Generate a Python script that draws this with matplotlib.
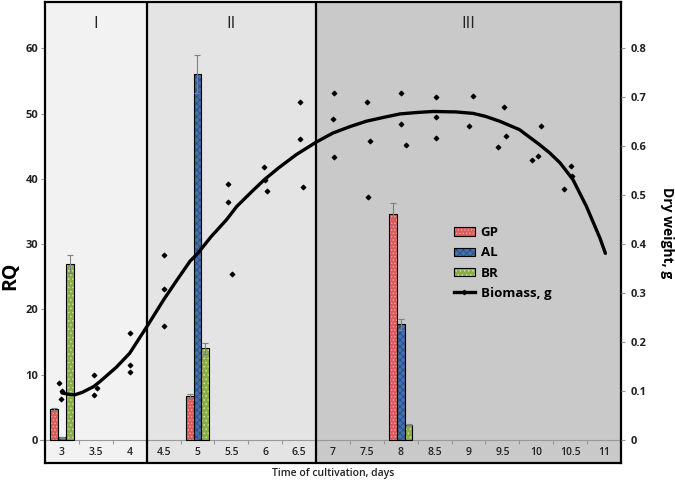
import matplotlib.pyplot as plt
from matplotlib.legend_handler import HandlerTuple
from matplotlib.lines import Line2D

plt.rcParams['font.family'] = ['Open Sans', 'DejaVu Sans']
plt.rcParams['hatch.linewidth'] = 0.6

# Data
day_labels = ['3', '3.5', '4', '4.5', '5', '5.5', '6', '6.5', '7', '7.5',
              '8', '8.5', '9', '9.5', '10', '10.5', '11']
bar_days = [3, 5, 8]
gp = [4.7, 6.7, 34.6]
gp_err = [0.2, 0.4, 1.7]
al = [0.4, 56.1, 17.7]
al_err = [0.1, 2.9, 0.8]
br = [26.9, 14.0, 2.3]
br_err = [1.4, 0.8, 0.1]

# biomass measurements (dry weight, g)
bio_days = [2.96, 3.0, 2.99, 3.47, 3.51, 3.47, 4.0, 4.0, 4.0, 4.5, 4.5, 4.5,
            5.45, 5.45, 5.51, 5.98, 6.0, 6.03, 6.51, 6.51, 6.55,
            7.01, 7.0, 7.01, 7.5, 7.54, 7.52, 8.01, 8.01, 8.07,
            8.52, 8.52, 8.52, 9.07, 9.0, 9.52, 9.56, 9.44,
            10.07, 10.02, 9.93, 10.51, 10.52, 10.41]
bio_vals = [0.116, 0.099, 0.083, 0.132, 0.106, 0.092, 0.218, 0.153, 0.138,
            0.377, 0.309, 0.232, 0.522, 0.485, 0.339, 0.557, 0.531, 0.509,
            0.690, 0.615, 0.516, 0.709, 0.656, 0.577, 0.690, 0.611, 0.497,
            0.709, 0.645, 0.602, 0.700, 0.660, 0.617, 0.703, 0.641,
            0.680, 0.621, 0.599, 0.641, 0.580, 0.571, 0.560, 0.539, 0.513]

# trend curve
trend_days = [3.0, 3.1, 3.19, 3.3, 3.47, 3.56, 3.8, 4.0, 4.27, 4.5, 4.7, 4.89,
              5.01, 5.2, 5.43, 5.58, 5.8, 5.99, 6.2, 6.46, 6.76, 7.0, 7.25,
              7.49, 7.75, 7.99, 8.25, 8.48, 8.82, 9.07, 9.25, 9.46, 9.75,
              10.05, 10.2, 10.35, 10.54, 10.74, 10.94, 11.02]
trend_vals = [0.096, 0.093, 0.092, 0.097, 0.109, 0.119, 0.148, 0.177, 0.235,
              0.286, 0.327, 0.365, 0.382, 0.415, 0.450, 0.477, 0.507, 0.532,
              0.556, 0.583, 0.609, 0.627, 0.640, 0.651, 0.659, 0.666, 0.669,
              0.671, 0.670, 0.667, 0.661, 0.651, 0.634, 0.603, 0.586, 0.566,
              0.532, 0.477, 0.412, 0.381]

regions = ['I', 'II', 'III']
region_edges = [2.75, 4.25, 6.75, 11.25]
region_colors = ['#f2f2f2', '#e4e4e4', '#c9c9c9']

fig = plt.figure(figsize=(6.75, 4.86), dpi=100)
ax = fig.add_axes([45 / 675, 1 - 463 / 486, 576 / 675, 461 / 486])
ax.set_xlim(2.75, 11.25)
ax.set_ylim(-3.55, 67.1)

for i, name in enumerate(regions):
    ax.axvspan(region_edges[i], region_edges[i + 1], color=region_colors[i], zorder=0, lw=0)
    ax.text((region_edges[i] + region_edges[i + 1]) / 2, 63.8, name,
            ha='center', va='center', fontsize=12, color='#222222')
for e in region_edges[1:-1]:
    ax.axvline(e, color='black', lw=1.6, zorder=5)

# horizontal axis line with category ticks
ax.plot([2.68, 11.25], [0, 0], color='#999999', lw=0.8, clip_on=False, zorder=1)
ax.vlines([3.25 + 0.5 * k for k in range(16)], -0.65, 0, color='#999999', lw=0.8, zorder=1)
for d, lab in zip([3 + 0.5 * k for k in range(17)], day_labels):
    ax.text(d, -1.95, lab, ha='center', va='center', fontsize=7.5,
            fontweight='semibold', color='#222222')

w = 0.115
series = [
    ('GP', gp, gp_err, -w, '#d95b5b', '#f2a5a5', '.....'),
    ('AL', al, al_err, 0, '#4470ad', '#2a4d80', 'xxxxx'),
    ('BR', br, br_err, w, '#8aad45', '#cde0a0', '....'),
]
handles = []
for name, vals, errs, off, fc, hc, hatch in series:
    xs = [d + off for d in bar_days]
    b1 = ax.bar(xs, vals, width=w, color=fc, edgecolor=hc, hatch=hatch, lw=0, zorder=2)
    b2 = ax.bar(xs, vals, width=w, fill=False, edgecolor='black', lw=0.8, zorder=3)
    ax.errorbar(xs, vals, yerr=errs, fmt='none', ecolor='#808080', elinewidth=0.8,
                capsize=2.5, capthick=0.8, zorder=4)
    handles.append((b1[0], b2[0]))

ax.set_xticks([])
ax.set_yticks(range(0, 61, 10))
ax.tick_params(axis='y', length=3, color='#999999', labelsize=8, pad=2)
for t in ax.get_yticklabels():
    t.set_fontweight('bold')
    t.set_color('#222222')
for s in ax.spines.values():
    s.set_linewidth(1.6)
    s.set_zorder(6)
fig.text(10 / 675, 1 - 276 / 486, 'RQ', rotation=90, ha='center', va='center',
         fontsize=14, fontweight='bold')

ax2 = ax.twinx()
ax2.set_ylim(-3.55 / 75, 67.1 / 75)
ax2.set_yticks([0.1 * k for k in range(9)])
ax2.set_yticklabels(['0', '0.1', '0.2', '0.3', '0.4', '0.5', '0.6', '0.7', '0.8'])
ax2.tick_params(axis='y', length=3, color='#999999', labelsize=8, pad=4)
for t in ax2.get_yticklabels():
    t.set_fontweight('bold')
    t.set_color('#222222')
ax2.scatter(bio_days, bio_vals, marker='D', s=5, color='black', zorder=5)
ax2.plot(trend_days, trend_vals, color='black', lw=2.4, solid_capstyle='round', zorder=6)
ax2.set_ylabel('Dry weight, g', fontsize=10, fontweight='bold', rotation=270, labelpad=20)
for s in ax2.spines.values():
    s.set_visible(False)

bio_handle = (Line2D([], [], color='black', lw=2.4),
              Line2D([], [], ls='none', marker='D', ms=2.2, color='black'))
handles.append(bio_handle)
fig.legend(handles, ['GP', 'AL', 'BR', 'Biomass, g'],
           handler_map={tuple: HandlerTuple(ndivide=1)},
           loc='center left', bbox_to_anchor=(447 / 675, 1 - 263 / 486),
           frameon=False, borderpad=0, handlelength=1.65, handleheight=0.6,
           handletextpad=0.4, labelspacing=0.55,
           prop={'size': 9.5, 'weight': 'bold'})

fig.text(333 / 675, 1 - 473 / 486, 'Time of cultivation, days', ha='center', va='center',
         fontsize=7.5, fontweight='semibold', color='#222222')

fig.savefig('out.png', dpi=100)
